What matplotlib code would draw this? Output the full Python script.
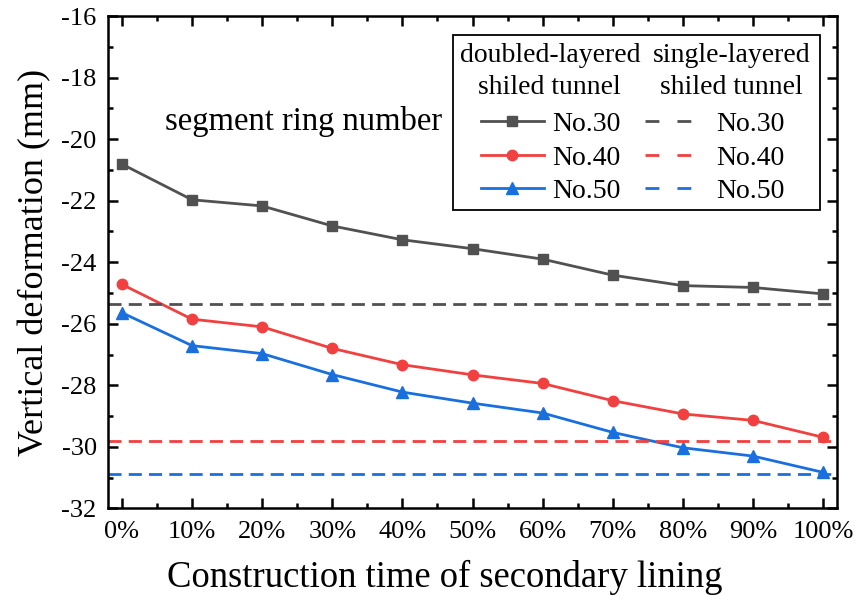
import numpy as np
import matplotlib
matplotlib.use("Agg")
import matplotlib.pyplot as plt
from matplotlib.lines import Line2D
from matplotlib.patches import Rectangle
from matplotlib.ticker import MultipleLocator

plt.rcParams['font.family'] = ['Liberation Serif', 'DejaVu Serif']
plt.rcParams['axes.unicode_minus'] = False

# data
time_pct = [0, 10, 20, 30, 40, 50, 60, 70, 80, 90, 100]
tick_labels = ['0%', '10%', '20%', '30%', '40%', '50%', '60%', '70%', '80%', '90%', '100%']
double_30 = [-20.81, -21.97, -22.17, -22.82, -23.27, -23.56, -23.90, -24.42, -24.76, -24.82, -25.03]
double_40 = [-24.72, -25.85, -26.10, -26.80, -27.33, -27.66, -27.94, -28.50, -28.93, -29.14, -29.69]
double_50 = [-25.64, -26.71, -26.97, -27.65, -28.22, -28.58, -28.90, -29.53, -30.03, -30.30, -30.83]
single_30 = -25.36
single_40 = -29.81
single_50 = -30.88

c30 = '#515151'
c40 = '#f14040'
c50 = '#1a6fdf'

fig, ax = plt.subplots(figsize=(8.56, 5.96), dpi=100)
fig.subplots_adjust(left=0.126, right=0.978, top=0.973, bottom=0.147)

l30, = ax.plot(time_pct, double_30, color=c30, lw=2, marker='s', ms=7)
l40, = ax.plot(time_pct, double_40, color=c40, lw=2, marker='o', ms=7.5)
l50, = ax.plot(time_pct, double_50, color=c50, lw=2, marker='^', ms=8)
d30 = ax.axhline(single_30, color=c30, lw=2, ls=(0, (4.7, 2.6)))
d40 = ax.axhline(single_40, color=c40, lw=2, ls=(0, (4.7, 2.6)))
d50 = ax.axhline(single_50, color=c50, lw=2, ls=(0, (4.7, 2.6)))

ax.set_xlim(-2, 102)
ax.set_ylim(-32, -16)
ax.set_xticks(time_pct)
ax.set_xticklabels(tick_labels)
ax.xaxis.set_minor_locator(MultipleLocator(5))
ax.yaxis.set_major_locator(MultipleLocator(2))
ax.yaxis.set_minor_locator(MultipleLocator(1))
ax.tick_params(which='both', direction='in', top=True, right=True, width=1.8)
ax.tick_params(which='major', length=7.5, labelsize=19)
ax.tick_params(which='minor', length=3.6)
ax.tick_params(axis='x', which='major', pad=9)
ax.tick_params(axis='y', which='major', pad=8)
for s in ax.spines.values():
    s.set_linewidth(1.8)

ax.set_xlabel('Construction time of secondary lining', fontsize=26.4)
ax.xaxis.set_label_coords(0.462, -0.105)
ax.set_ylabel('Vertical deformation (mm)', fontsize=26, labelpad=7)

# legend: entries without frame, box and column headers drawn around them
dash_h = [Line2D([], [], color=c, lw=2, ls=(0, (5, 6.5))) for c in (c30, c40, c50)]
handles = [l30, l40, l50] + dash_h
labels = ['No.30', 'No.40', 'No.50', 'No.30', 'No.40', 'No.50']
leg = ax.legend(handles, labels, ncol=2, loc='upper left', bbox_to_anchor=(0.5117, 0.806),
                fontsize=20, frameon=False, borderpad=0, borderaxespad=0,
                handlelength=2.25, handletextpad=0.3, columnspacing=0.9,
                labelspacing=0.29)
ax.add_patch(Rectangle((0.473, 0.606), 0.504, 0.355, transform=ax.transAxes,
                       facecolor='white', edgecolor='black', lw=1.3, zorder=4))

ax.text(0.606, 0.887, 'doubled-layered\nshiled tunnel', transform=ax.transAxes,
        ha='center', va='center', fontsize=20, linespacing=1.38, zorder=6)
ax.text(0.855, 0.887, 'single-layered\nshiled tunnel', transform=ax.transAxes,
        ha='center', va='center', fontsize=20, linespacing=1.38, zorder=6)
ax.text(0.078, 0.785, 'segment ring number', transform=ax.transAxes,
        ha='left', va='center', fontsize=23.5)

fig.savefig('out.png', dpi=100)
